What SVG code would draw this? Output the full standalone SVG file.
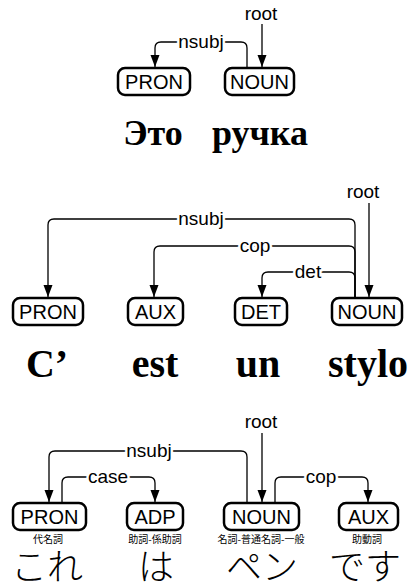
<svg xmlns="http://www.w3.org/2000/svg" width="409" height="588" viewBox="0 0 409 588">
<style>
.box{fill:#fff;stroke:#000;stroke-width:2.5}
.pos{font-family:"Liberation Sans",Arial,sans-serif;font-size:20px;text-anchor:middle;fill:#000}
.edge{fill:none;stroke:#000;stroke-width:1.3}
.lab{font-family:"Liberation Sans",Arial,sans-serif;font-size:19px;text-anchor:middle;fill:#000;stroke:#fff;stroke-width:5;paint-order:stroke;stroke-linejoin:round}
.word{font-family:"Liberation Serif","Times New Roman",serif;font-weight:bold;font-size:40px;text-anchor:middle;fill:#000}
.rword{font-family:"Liberation Serif","Times New Roman",serif;font-weight:bold;font-size:36px;text-anchor:middle;fill:#000}
.jword{font-family:"Noto Sans CJK JP",sans-serif;font-weight:300;font-size:36px;text-anchor:middle;fill:#000}
.feat{font-family:"Noto Sans CJK JP",sans-serif;font-size:10px;text-anchor:middle;fill:#000}
</style>
<defs>
<marker id="arr" markerUnits="userSpaceOnUse" markerWidth="12" markerHeight="10" refX="12" refY="4.5" orient="auto">
<path d="M0,0 L12,4.5 L0,9 z" fill="#000"/>
</marker>
</defs>

<g id="connectors">
<path class="edge" d="M262,24 V67" marker-end="url(#arr)"/>
<path class="edge" d="M247,68 V48 Q247,42 241,42 H161 Q155,42 155,48 V67" marker-end="url(#arr)"/>
<path class="edge" d="M369,203 V297" marker-end="url(#arr)"/>
<path class="edge" d="M355,298 V225 Q355,219 349,219 H54 Q48,219 48,225 V297" marker-end="url(#arr)"/>
<path class="edge" d="M355,298 V252 Q355,246 349,246 H160 Q154,246 154,252 V297" marker-end="url(#arr)"/>
<path class="edge" d="M355,298 V278 Q355,272 349,272 H268 Q262,272 262,278 V297" marker-end="url(#arr)"/>
<path class="edge" d="M262,433 V502" marker-end="url(#arr)"/>
<path class="edge" d="M247,503 V457 Q247,451 241,451 H55 Q49,451 49,457 V502" marker-end="url(#arr)"/>
<path class="edge" d="M62,503 V483 Q62,477 68,477 H149 Q155,477 155,483 V502" marker-end="url(#arr)"/>
<path class="edge" d="M275,503 V483 Q275,477 281,477 H362 Q368,477 368,483 V502" marker-end="url(#arr)"/>
</g>

<g id="edge-labels">
<text class="lab" x="261" y="20">root</text>
<text class="lab" x="201" y="47.5">nsubj</text>
<text class="lab" x="363" y="198">root</text>
<text class="lab" x="201" y="224.5">nsubj</text>
<text class="lab" x="255" y="251.5">cop</text>
<text class="lab" x="308" y="277.5">det</text>
<text class="lab" x="261" y="428">root</text>
<text class="lab" x="149" y="456.5">nsubj</text>
<text class="lab" x="108" y="482.5">case</text>
<text class="lab" x="321" y="482.5">cop</text>
</g>

<g id="s1-pron"><rect class="box" x="118" y="68" width="72" height="27" rx="7"/><text class="pos" x="154" y="88.5">PRON</text><text class="rword" x="153" y="145">Это</text></g>
<g id="s1-noun"><rect class="box" x="225" y="68" width="69" height="27" rx="7"/><text class="pos" x="259.5" y="88.5">NOUN</text><text class="rword" x="260" y="145">ручка</text></g>

<g id="s2-pron"><rect class="box" x="13" y="298" width="70" height="27" rx="7"/><text class="pos" x="48" y="318.5">PRON</text><text class="word" x="47" y="377">C’</text></g>
<g id="s2-aux"><rect class="box" x="128" y="298" width="55" height="27" rx="7"/><text class="pos" x="155.5" y="318.5">AUX</text><text class="word" x="155" y="377">est</text></g>
<g id="s2-det"><rect class="box" x="235" y="298" width="52" height="27" rx="7"/><text class="pos" x="261" y="318.5">DET</text><text class="word" x="258" y="377">un</text></g>
<g id="s2-noun"><rect class="box" x="332" y="298" width="70" height="27" rx="7"/><text class="pos" x="367" y="318.5">NOUN</text><text class="word" x="368" y="377">stylo</text></g>

<g id="s3-pron"><rect class="box" x="13" y="503" width="73" height="27" rx="7"/><text class="pos" x="49.5" y="523.5">PRON</text><text class="feat" x="48" y="543">代名詞</text><text class="jword" x="47" y="580">これ</text></g>
<g id="s3-adp"><rect class="box" x="127" y="503" width="56" height="27" rx="7"/><text class="pos" x="155" y="523.5">ADP</text><text class="feat" x="155" y="543">助詞-係助詞</text><text class="jword" x="156" y="580">は</text></g>
<g id="s3-noun"><rect class="box" x="224" y="503" width="75" height="27" rx="7"/><text class="pos" x="261.5" y="523.5">NOUN</text><text class="feat" x="261" y="543">名詞-普通名詞-一般</text><text class="jword" x="262" y="580">ペン</text></g>
<g id="s3-aux"><rect class="box" x="339" y="503" width="59" height="27" rx="7"/><text class="pos" x="368.5" y="523.5">AUX</text><text class="feat" x="367" y="543">助動詞</text><text class="jword" x="365" y="580">です</text></g>
</svg>
